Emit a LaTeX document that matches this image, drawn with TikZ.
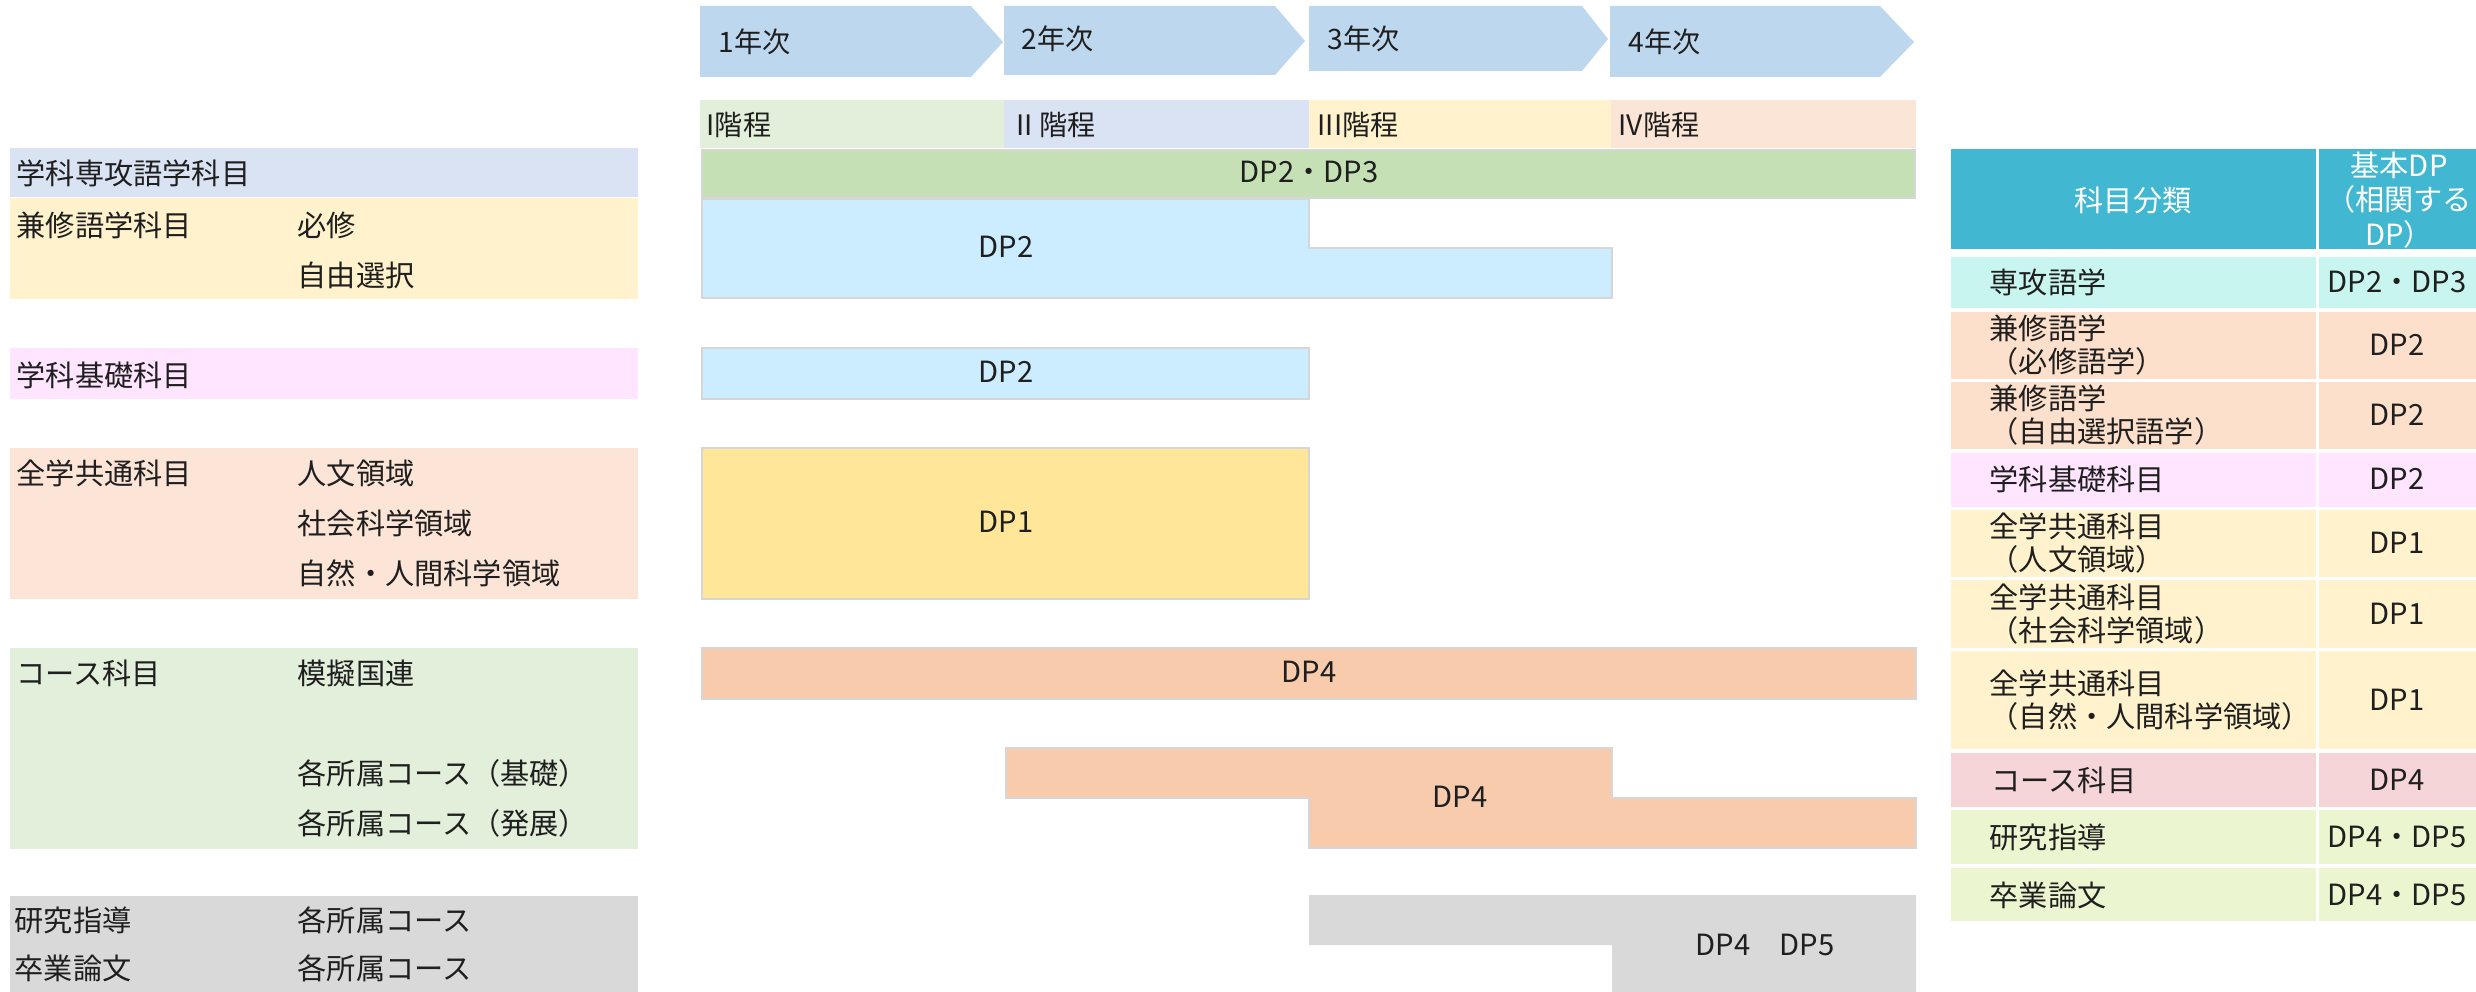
\documentclass[tikz,border=0pt]{standalone}
\usepackage{fontspec}
\setmainfont{Noto Sans CJK JP}
\definecolor{chev}{HTML}{BDD7EE}
\definecolor{stA}{HTML}{E2EFDA}
\definecolor{stB}{HTML}{DAE3F3}
\definecolor{stC}{HTML}{FFF2CC}
\definecolor{stD}{HTML}{FBE5D6}
\definecolor{dpgreen}{HTML}{C5E0B4}
\definecolor{dpblue}{HTML}{CCECFF}
\definecolor{dpyellow}{HTML}{FFE699}
\definecolor{dporange}{HTML}{F8CBAD}
\definecolor{dpgray}{HTML}{D9D9D9}
\definecolor{barline}{HTML}{D6D6D6}
\definecolor{lpink}{HTML}{FFE5FF}
\definecolor{lpeach}{HTML}{FCE4D6}
\definecolor{hdr}{HTML}{42B7D1}
\definecolor{tcyan}{HTML}{C8F5F0}
\definecolor{tpeach}{HTML}{FCE0CB}
\definecolor{tyellow}{HTML}{FFF2CC}
\definecolor{trose}{HTML}{F5D5D8}
\definecolor{tlime}{HTML}{EBF5CF}
\begin{document}
\begin{tikzpicture}[x=0.01cm,y=-0.01cm,
  txt/.style={font=\fontsize{8.3pt}{10pt}\selectfont, inner sep=0pt, text=black!88},
  stxt/.style={font=\fontsize{8pt}{10pt}\selectfont, inner sep=0pt, text=black!88, anchor=west},
  lft/.style={txt, anchor=west},
  two/.style={txt, anchor=west, align=left},
  bar/.style={draw=barline, line width=0.55pt},
  ]
\useasboundingbox (0,0) rectangle (2476,991);
\fill[white] (0,0) rectangle (2476,991);

% ---- year chevrons
\fill[chev] (700,6) -- (971,6) -- (1003,42) -- (971,77) -- (700,77) -- cycle;
\fill[chev] (1004,6) -- (1275,6) -- (1305,41) -- (1275,75) -- (1004,75) -- cycle;
\fill[chev] (1309,6) -- (1582,6) -- (1608,39) -- (1582,71) -- (1309,71) -- cycle;
\fill[chev] (1610,6) -- (1880,6) -- (1914,42) -- (1880,77) -- (1610,77) -- cycle;
\node[stxt] (y1) at (718,42) {1年次};
\node[stxt] (y2) at (1021,39) {2年次};
\node[stxt] (y3) at (1327,39) {3年次};
\node[stxt] (y4) at (1628,42) {4年次};

% ---- stages
\fill[stA] (700,100) rectangle (1004,148);
\fill[stB] (1004,100) rectangle (1309,148);
\fill[stC] (1309,100) rectangle (1611,148);
\fill[stD] (1611,100) rectangle (1916,148);
\node[stxt] (s1) at (706,125) {I階程};
\node[stxt] (s2) at (1016,125) {II 階程};
\node[stxt] (s3) at (1317,125) {III階程};
\node[stxt] (s4) at (1618,125) {IV階程};

% ---- DP bars
\draw[bar, fill=dpgreen] (702,150) rectangle (1915,198);
\node[txt] (b1) at (1309,172) {DP2・DP3};

\draw[bar, fill=dpblue] (702,199) -- (1309,199) -- (1309,248) -- (1612,248) -- (1612,298) -- (702,298) -- cycle;
\node[txt] (b2) at (1006,247) {DP2};

\draw[bar, fill=dpblue] (702,348) rectangle (1309,399);
\node[txt] (b3) at (1006,372) {DP2};

\draw[bar, fill=dpyellow] (702,448) rectangle (1309,599);
\node[txt] (b4) at (1006,522) {DP1};

\draw[bar, fill=dporange] (702,648) rectangle (1916,699);
\node[txt] (b5) at (1309,672) {DP4};

\draw[bar, fill=dporange] (1006,748) -- (1612,748) -- (1612,798) -- (1916,798) -- (1916,848) -- (1309,848) -- (1309,798) -- (1006,798) -- cycle;
\node[txt] (b6) at (1460,797) {DP4};

\fill[dpgray] (1309,895) -- (1916,895) -- (1916,995) -- (1612,995) -- (1612,945) -- (1309,945) -- cycle;
\node[txt] (b7) at (1765,945) {DP4　DP5};

% ---- left labels
\fill[stB] (10,148) rectangle (638,197);
\fill[stC] (10,198) rectangle (638,299);
\fill[lpink] (10,348) rectangle (638,399);
\fill[lpeach] (10,448) rectangle (638,599);
\fill[stA] (10,648) rectangle (638,849);
\fill[dpgray] (10,896) rectangle (638,995);

\node[lft] (l1) at (16,173) {学科専攻語学科目};
\node[lft] (l2) at (16,225) {兼修語学科目};
\node[lft] (l2a) at (297,225) {必修};
\node[lft] (l2b) at (297,275) {自由選択};
\node[lft] (l3) at (16,375) {学科基礎科目};
\node[lft] (l4) at (16,473) {全学共通科目};
\node[lft] (l4a) at (297,473) {人文領域};
\node[lft] (l4b) at (297,523) {社会科学領域};
\node[lft] (l4c) at (297,573) {自然・人間科学領域};
\node[lft] (l5) at (16,673) {コース科目};
\node[lft] (l5a) at (297,673) {模擬国連};
\node[lft] (l5b) at (297,773) {各所属コース（基礎）};
\node[lft] (l5c) at (297,823) {各所属コース（発展）};
\node[lft] (l6) at (14,920) {研究指導};
\node[lft] (l6a) at (297,920) {各所属コース};
\node[lft] (l7) at (14,968) {卒業論文};
\node[lft] (l7a) at (297,968) {各所属コース};

% ---- right table
\fill[hdr] (1951,149) rectangle (2316,249);
\fill[hdr] (2319,149) rectangle (2476,249);
\node[txt, text=white] (h1) at (2133,200) {科目分類};
\node[txt, text=white, align=center, font=\fontsize{8.3pt}{9.9pt}\selectfont] (h2) at (2399,200) {基本DP\\（相関する\\DP）};

\fill[tcyan] (1951,257) rectangle (2316,308);  \fill[tcyan] (2319,257) rectangle (2476,308);
\fill[tpeach] (1951,312) rectangle (2316,379); \fill[tpeach] (2319,312) rectangle (2476,379);
\fill[tpeach] (1951,382) rectangle (2316,449); \fill[tpeach] (2319,382) rectangle (2476,449);
\fill[lpink] (1951,453) rectangle (2316,507);  \fill[lpink] (2319,453) rectangle (2476,507);
\fill[tyellow] (1951,510) rectangle (2316,577); \fill[tyellow] (2319,510) rectangle (2476,577);
\fill[tyellow] (1951,580) rectangle (2316,648); \fill[tyellow] (2319,580) rectangle (2476,648);
\fill[tyellow] (1951,651) rectangle (2316,749); \fill[tyellow] (2319,651) rectangle (2476,749);
\fill[trose] (1951,753) rectangle (2316,807);  \fill[trose] (2319,753) rectangle (2476,807);
\fill[tlime] (1951,810) rectangle (2316,864);  \fill[tlime] (2319,810) rectangle (2476,864);
\fill[tlime] (1951,868) rectangle (2316,921);  \fill[tlime] (2319,868) rectangle (2476,921);

\node[lft] (t1) at (1989,282) {専攻語学};
\node[two, font=\fontsize{8.3pt}{9.6pt}\selectfont] (t2) at (1989,345) {兼修語学\\（必修語学）};
\node[two, font=\fontsize{8.3pt}{9.6pt}\selectfont] (t3) at (1989,415) {兼修語学\\（自由選択語学）};
\node[lft] (t4) at (1989,479) {学科基礎科目};
\node[two, font=\fontsize{8.3pt}{9.6pt}\selectfont] (t5) at (1989,543) {全学共通科目\\（人文領域）};
\node[two, font=\fontsize{8.3pt}{9.6pt}\selectfont] (t6) at (1989,614) {全学共通科目\\（社会科学領域）};
\node[two, font=\fontsize{8.3pt}{9.6pt}\selectfont] (t7) at (1989,700) {全学共通科目\\（自然・人間科学領域）};
\node[lft] (t8) at (1991,780) {コース科目};
\node[lft] (t9) at (1989,837) {研究指導};
\node[lft] (t10) at (1989,895) {卒業論文};

\node[txt] (d1) at (2397,282) {DP2・DP3};
\node[txt] (d2) at (2397,345) {DP2};
\node[txt] (d3) at (2397,415) {DP2};
\node[txt] (d4) at (2397,479) {DP2};
\node[txt] (d5) at (2397,543) {DP1};
\node[txt] (d6) at (2397,614) {DP1};
\node[txt] (d7) at (2397,700) {DP1};
\node[txt] (d8) at (2397,780) {DP4};
\node[txt] (d9) at (2397,837) {DP4・DP5};
\node[txt] (d10) at (2397,895) {DP4・DP5};
\end{tikzpicture}
\end{document}
